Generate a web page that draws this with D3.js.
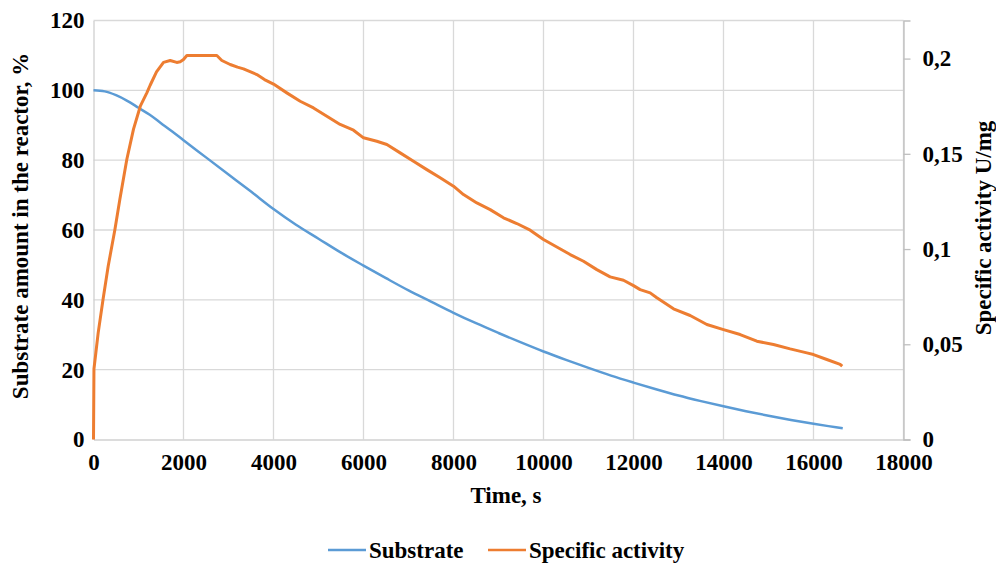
<!DOCTYPE html>
<html>
<head>
<meta charset="utf-8">
<script src="https://cdn.jsdelivr.net/npm/d3@7"></script>
<style>
  body { margin: 0; background: #fff; }
  text { font-family: "Liberation Serif", "Times New Roman", serif; font-weight: bold; fill: #000; }
</style>
</head>
<body>
<svg id="chart"></svg>
<script>
var W = 996, H = 565;

// Substrate, % (left axis)
var subTime = [0, 250, 500, 750, 1000, 1250, 1500, 1750, 2000, 2500, 3000, 3500, 4000, 4500, 5000, 5500, 6000,
  6500, 7000, 7500, 8000, 8500, 9000, 9500, 10000, 10500, 11000, 11500, 12000, 12500, 13000, 13500,
  14000, 14500, 15000, 15500, 16000, 16500, 16650];
var subVal = [100, 99.7, 98.6, 97, 95, 93, 90.6, 88.2, 85.7, 80.8, 75.9, 71, 66, 61.5, 57.5, 53.5, 49.8,
  46.2, 42.7, 39.5, 36.3, 33.3, 30.5, 27.8, 25.2, 22.8, 20.5, 18.3, 16.3, 14.4, 12.6, 11,
  9.5, 8.1, 6.8, 5.6, 4.5, 3.5, 3.2];

// Specific activity, U/mg (right axis)
var actTime = [0, 10, 104, 215, 326, 474, 585, 740, 889, 1040, 1185, 1259, 1400, 1556, 1704, 1850, 1926,
  2000, 2074, 2400, 2741, 2852, 3037, 3200, 3333, 3630, 3800, 4000, 4296, 4593, 4889, 5185, 5481,
  5778, 6000, 6296, 6519, 6815, 7111, 7407, 7704, 8000, 8222, 8519, 8815, 9111, 9407, 9704, 10000,
  10296, 10593, 10889, 11185, 11481, 11778, 12000, 12148, 12370, 12519, 12889, 13259, 13630, 14000,
  14370, 14741, 15111, 15481, 15852, 16000, 16296, 16593, 16640];
var actVal = [0, 0.037, 0.056, 0.074, 0.091, 0.110, 0.126, 0.147, 0.163, 0.175, 0.182, 0.186, 0.193, 0.198,
  0.199, 0.198, 0.1983, 0.1995, 0.2016, 0.2016, 0.2016, 0.199, 0.1969, 0.1955, 0.1946, 0.1916, 0.189,
  0.1866, 0.182, 0.1776, 0.1741, 0.1697, 0.1654, 0.1624, 0.1584, 0.1566, 0.1549, 0.1505, 0.1461,
  0.1417, 0.1374, 0.133, 0.1286, 0.1242, 0.1207, 0.1164, 0.1134, 0.1099, 0.105, 0.1011, 0.0971,
  0.0936, 0.0892, 0.0854, 0.0836, 0.0808, 0.0787, 0.077, 0.0744, 0.0686, 0.0651, 0.0604, 0.0577,
  0.0551, 0.0516, 0.0499, 0.0476, 0.0455, 0.0446, 0.042, 0.0394, 0.0385];

var xTicks = [0, 2000, 4000, 6000, 8000, 10000, 12000, 14000, 16000, 18000];
var yLeftTicks = [0, 20, 40, 60, 80, 100, 120];
var yRightTicks = [0, 0.05, 0.1, 0.15, 0.2];
var seriesNames = ["Substrate", "Specific activity"];
var seriesColors = ["#5b9bd5", "#ed7d31"];

var pLeft = 93.5, pRight = 903.5, pTop = 20.5, pBottom = 439.5;
var fs = 23;

var svg = d3.select("#chart").attr("width", W).attr("height", H);

var x = d3.scaleLinear().domain([0, 18000]).range([pLeft, pRight]);
var yL = d3.scaleLinear().domain([0, 120]).range([pBottom, pTop]);
var yR = d3.scaleLinear().domain([0, 0.22]).range([pBottom, pTop]);

// gridlines
var grid = svg.append("g").attr("stroke", "#d9d9d9").attr("stroke-width", 1.3);
grid.selectAll("line.h").data(yLeftTicks.slice(1)).enter().append("line")
  .attr("x1", pLeft).attr("x2", pRight)
  .attr("y1", function(d) { return yL(d); })
  .attr("y2", function(d) { return yL(d); });
grid.selectAll("line.v").data(xTicks.slice(1)).enter().append("line")
  .attr("y1", pTop).attr("y2", pBottom)
  .attr("x1", function(d) { return x(d); })
  .attr("x2", function(d) { return x(d); });

// axes
var xAxis = svg.append("g").attr("transform", "translate(0," + pBottom + ")")
  .call(d3.axisBottom(x).tickValues(xTicks).tickSize(0).tickPadding(14).tickFormat(d3.format("d")));
var yAxisL = svg.append("g").attr("transform", "translate(" + pLeft + ",0)")
  .call(d3.axisLeft(yL).tickValues(yLeftTicks).tickSize(0).tickPadding(9));
var yAxisR = svg.append("g").attr("transform", "translate(" + pRight + ",0)")
  .call(d3.axisRight(yR).tickValues(yRightTicks).tickSize(7).tickPadding(12)
    .tickFormat(function(d) { return String(d).replace(".", ","); }));

[xAxis, yAxisL, yAxisR].forEach(function(a) {
  a.select(".domain").attr("stroke", "#bfbfbf").attr("stroke-width", 1.3);
  a.selectAll(".tick line").attr("stroke", "#bfbfbf").attr("stroke-width", 1.3);
  a.selectAll("text").attr("font-family", "Liberation Serif").attr("font-weight", "bold")
    .attr("font-size", fs).attr("fill", "#000");
});
xAxis.select(".domain").attr("stroke", "#d0d0d0");
yAxisL.select(".domain").attr("stroke", "#d0d0d0");

// lines
var subLine = d3.line().curve(d3.curveMonotoneX)
  .x(function(d, i) { return x(subTime[i]); }).y(function(d) { return yL(d); });
var actLine = d3.line().x(function(d, i) { return x(actTime[i]); }).y(function(d) { return yR(d); });

svg.append("path").datum(subVal).attr("d", subLine)
  .attr("fill", "none").attr("stroke", seriesColors[0]).attr("stroke-width", 2.5);
svg.append("path").datum(actVal).attr("d", actLine)
  .attr("fill", "none").attr("stroke", seriesColors[1]).attr("stroke-width", 3)
  .attr("stroke-linejoin", "round");

// axis titles
svg.append("text").attr("x", 506).attr("y", 503).attr("text-anchor", "middle")
  .attr("font-size", fs).text("Time, s");
svg.append("text").attr("transform", "translate(28,226) rotate(-90)").attr("text-anchor", "middle")
  .attr("font-size", fs).text("Substrate amount in the reactor, %");
svg.append("text").attr("transform", "translate(991,228) rotate(-90)").attr("text-anchor", "middle")
  .attr("font-size", fs).text("Specific activity U/mg");

// legend
var legX = [328, 488];
var leg = svg.append("g").selectAll("g").data(seriesNames).enter().append("g")
  .attr("transform", function(d, i) { return "translate(" + legX[i] + ",550)"; });
leg.append("line").attr("x1", 0).attr("x2", 38).attr("y1", 0).attr("y2", 0)
  .attr("stroke", function(d, i) { return seriesColors[i]; }).attr("stroke-width", 2.5);
leg.append("text").attr("x", 41).attr("y", 8).attr("font-size", fs).text(function(d) { return d; });
</script>
</body>
</html>
